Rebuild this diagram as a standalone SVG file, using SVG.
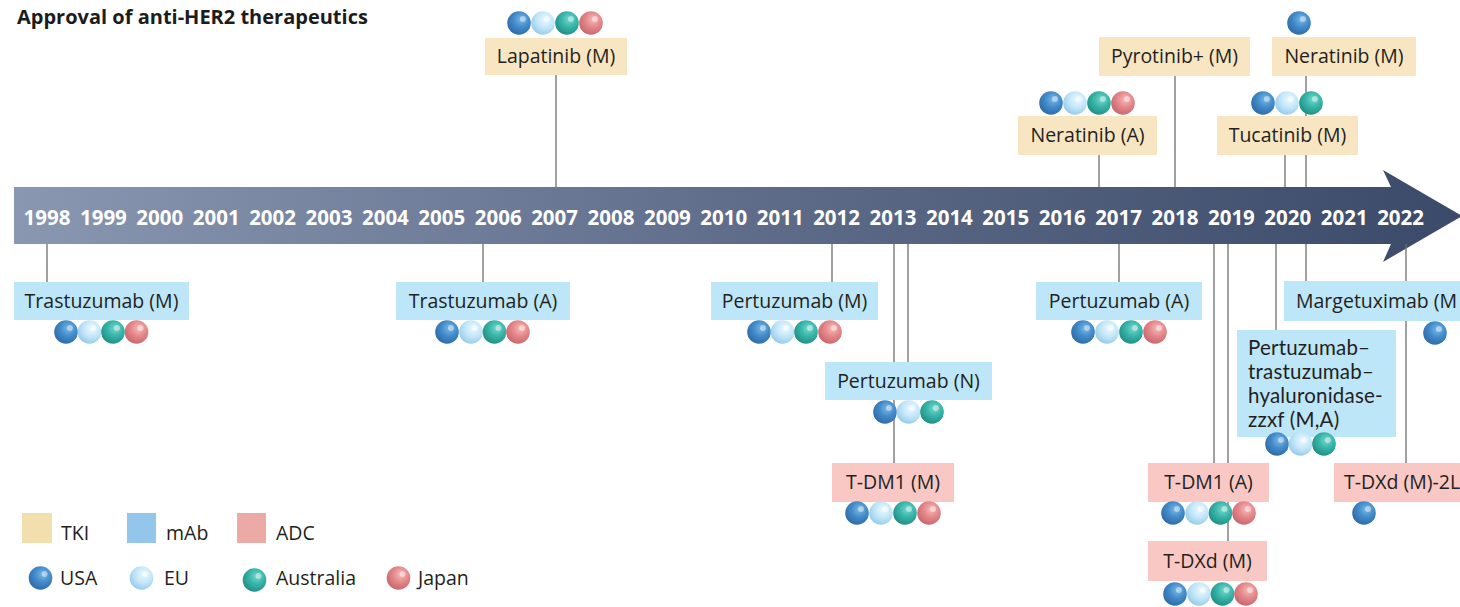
<svg xmlns="http://www.w3.org/2000/svg" xmlns:xlink="http://www.w3.org/1999/xlink" width="1460" height="607" viewBox="0 0 1460 607">
<style>
text{font-family:"Open Sans","Noto Sans","Liberation Sans",sans-serif;}
.title{font-size:20px;font-weight:700;fill:#1c1c1c;}
.yr{font-size:20.5px;font-weight:700;fill:#ffffff;text-anchor:middle;}
.lbl{font-size:19.5px;fill:#231f20;text-anchor:middle;}
.lbll{font-size:19.5px;fill:#231f20;}
.multi{font-family:Lato,"Open Sans",sans-serif;font-size:20.5px;fill:#231f20;letter-spacing:0.2px;}
.leg{font-size:19.5px;fill:#231f20;}
.tki{fill:#f8e6c3;}
.mab{fill:#bee6f9;}
.adc{fill:#f9c8c5;}
.conn line{stroke:#6e6e6e;stroke-width:1.3;}
</style>
<defs>
<linearGradient id="arrowG" x1="0" y1="0" x2="1" y2="0">
<stop offset="0" stop-color="#8a97b1"/>
<stop offset="0.5" stop-color="#5f6d8b"/>
<stop offset="1" stop-color="#3b4a68"/>
</linearGradient>
<radialGradient id="gU" cx="0.6" cy="0.35" r="0.75">
<stop offset="0" stop-color="#7ab8e4"/>
<stop offset="0.45" stop-color="#428bca"/>
<stop offset="1" stop-color="#2a639e"/>
</radialGradient>
<radialGradient id="gE" cx="0.6" cy="0.35" r="0.75">
<stop offset="0" stop-color="#eef9ff"/>
<stop offset="0.5" stop-color="#c0e5f8"/>
<stop offset="1" stop-color="#8cc4e4"/>
</radialGradient>
<radialGradient id="gA" cx="0.6" cy="0.35" r="0.75">
<stop offset="0" stop-color="#78d6cc"/>
<stop offset="0.45" stop-color="#36b4a8"/>
<stop offset="1" stop-color="#1d857c"/>
</radialGradient>
<radialGradient id="gJ" cx="0.6" cy="0.35" r="0.75">
<stop offset="0" stop-color="#f6baba"/>
<stop offset="0.45" stop-color="#e4878a"/>
<stop offset="1" stop-color="#c25f64"/>
</radialGradient>
<g id="usa"><circle r="11.8" fill="url(#gU)"/><circle cx="4" cy="-4" r="3" fill="#ffffff" opacity="0.45"/></g>
<g id="eu"><circle r="11.8" fill="url(#gE)"/><circle cx="4" cy="-4" r="3" fill="#ffffff" opacity="0.5"/></g>
<g id="aus"><circle r="11.8" fill="url(#gA)"/><circle cx="4" cy="-4" r="3" fill="#ffffff" opacity="0.45"/></g>
<g id="jpn"><circle r="11.8" fill="url(#gJ)"/><circle cx="4" cy="-4" r="3" fill="#ffffff" opacity="0.45"/></g>
</defs>
<rect width="1460" height="607" fill="#ffffff"/>
<text class="title" x="17" y="24">Approval of anti-HER2 therapeutics</text>

<g id="timeline">
<path d="M14,187 H1391 L1383,170 L1462,216 L1383,262 L1391,244 H14 Z" fill="url(#arrowG)"/>
<text class="yr" x="47" y="225">1998</text>
<text class="yr" x="103.4" y="225">1999</text>
<text class="yr" x="159.8" y="225">2000</text>
<text class="yr" x="216.2" y="225">2001</text>
<text class="yr" x="272.6" y="225">2002</text>
<text class="yr" x="329" y="225">2003</text>
<text class="yr" x="385.4" y="225">2004</text>
<text class="yr" x="441.8" y="225">2005</text>
<text class="yr" x="498.2" y="225">2006</text>
<text class="yr" x="554.6" y="225">2007</text>
<text class="yr" x="611" y="225">2008</text>
<text class="yr" x="667.4" y="225">2009</text>
<text class="yr" x="723.8" y="225">2010</text>
<text class="yr" x="780.2" y="225">2011</text>
<text class="yr" x="836.6" y="225">2012</text>
<text class="yr" x="893" y="225">2013</text>
<text class="yr" x="949.4" y="225">2014</text>
<text class="yr" x="1005.8" y="225">2015</text>
<text class="yr" x="1062.2" y="225">2016</text>
<text class="yr" x="1118.6" y="225">2017</text>
<text class="yr" x="1175" y="225">2018</text>
<text class="yr" x="1231.4" y="225">2019</text>
<text class="yr" x="1287.8" y="225">2020</text>
<text class="yr" x="1344.2" y="225">2021</text>
<text class="yr" x="1400.6" y="225">2022</text>
</g>

<g id="connectors" class="conn">
<line x1="556" y1="75" x2="556" y2="187"/>
<line x1="1175" y1="76" x2="1175" y2="187"/>
<line x1="1306" y1="76" x2="1306" y2="187"/>
<line x1="1099" y1="155" x2="1099" y2="187"/>
<line x1="1285" y1="155" x2="1285" y2="187"/>
<line x1="47" y1="244" x2="47" y2="282"/>
<line x1="483" y1="244" x2="483" y2="282"/>
<line x1="832" y1="244" x2="832" y2="282"/>
<line x1="894" y1="244" x2="894" y2="463"/>
<line x1="908" y1="244" x2="908" y2="362"/>
<line x1="1119" y1="244" x2="1119" y2="282"/>
<line x1="1306" y1="244" x2="1306" y2="281"/>
<line x1="1276" y1="244" x2="1276" y2="330"/>
<line x1="1214" y1="244" x2="1214" y2="463"/>
<line x1="1228" y1="244" x2="1228" y2="541"/>
<line x1="1406" y1="244" x2="1406" y2="463"/>
</g>

<g id="lapatinib-m">
<rect class="tki" x="485" y="38" width="142" height="37"/>
<text class="lbl" x="556" y="63">Lapatinib (M)</text>
<use href="#usa" x="519" y="23"/><use href="#eu" x="543" y="23"/><use href="#aus" x="567" y="23"/><use href="#jpn" x="591" y="23"/>
</g>

<g id="pyrotinib-m">
<rect class="tki" x="1099" y="37" width="151" height="39"/>
<text class="lbl" x="1174.5" y="63">Pyrotinib+ (M)</text>
</g>

<g id="neratinib-m">
<rect class="tki" x="1272" y="37" width="144" height="39"/>
<text class="lbl" x="1344" y="63">Neratinib (M)</text>
<use href="#usa" x="1299" y="23"/>
</g>

<g id="neratinib-a">
<rect class="tki" x="1018" y="116" width="139" height="39"/>
<text class="lbl" x="1087.5" y="142">Neratinib (A)</text>
<use href="#usa" x="1051" y="103"/><use href="#eu" x="1075" y="103"/><use href="#aus" x="1099" y="103"/><use href="#jpn" x="1123" y="103"/>
</g>

<g id="tucatinib-m">
<rect class="tki" x="1217" y="116" width="141" height="39"/>
<text class="lbl" x="1287.5" y="142">Tucatinib (M)</text>
<use href="#usa" x="1263" y="103"/><use href="#eu" x="1287" y="103"/><use href="#aus" x="1311" y="103"/>
</g>

<g id="trastuzumab-m">
<rect class="mab" x="14" y="282" width="175" height="38"/>
<text class="lbl" x="101.5" y="308">Trastuzumab (M)</text>
<use href="#usa" x="66" y="332"/><use href="#eu" x="89.5" y="332"/><use href="#aus" x="113" y="332"/><use href="#jpn" x="136.5" y="332"/>
</g>

<g id="trastuzumab-a">
<rect class="mab" x="396" y="282" width="174" height="38"/>
<text class="lbl" x="483" y="308">Trastuzumab (A)</text>
<use href="#usa" x="447" y="332"/><use href="#eu" x="471" y="332"/><use href="#aus" x="494.5" y="332"/><use href="#jpn" x="518" y="332"/>
</g>

<g id="pertuzumab-m">
<rect class="mab" x="711" y="282" width="167" height="38"/>
<text class="lbl" x="794.5" y="308">Pertuzumab (M)</text>
<use href="#usa" x="759" y="332"/><use href="#eu" x="782.5" y="332"/><use href="#aus" x="806" y="332"/><use href="#jpn" x="830" y="332"/>
</g>

<g id="pertuzumab-n">
<rect class="mab" x="825" y="362" width="167" height="38"/>
<text class="lbl" x="908.5" y="388">Pertuzumab (N)</text>
<use href="#usa" x="885" y="412"/><use href="#eu" x="908.5" y="412"/><use href="#aus" x="932" y="412"/>
</g>

<g id="tdm1-m">
<rect class="adc" x="832" y="463" width="122" height="39"/>
<text class="lbl" x="893" y="489">T-DM1 (M)</text>
<use href="#usa" x="857" y="513"/><use href="#eu" x="881" y="513"/><use href="#aus" x="905" y="513"/><use href="#jpn" x="929" y="513"/>
</g>

<g id="pertuzumab-a">
<rect class="mab" x="1036" y="282" width="166" height="38"/>
<text class="lbl" x="1119" y="308">Pertuzumab (A)</text>
<use href="#usa" x="1083" y="332"/><use href="#eu" x="1107" y="332"/><use href="#aus" x="1131" y="332"/><use href="#jpn" x="1155" y="332"/>
</g>

<g id="margetuximab-m">
<rect class="mab" x="1284" y="281" width="176" height="40"/>
<text class="lbll" x="1296" y="308">Margetuximab (M</text>
<use href="#usa" x="1435" y="333"/>
</g>

<g id="phesgo-ma">
<rect class="mab" x="1237" y="330" width="159" height="107"/>
<text class="multi" x="1248" y="355">Pertuzumab–</text>
<text class="multi" x="1248" y="379">trastuzumab–</text>
<text class="multi" x="1248" y="403">hyaluronidase-</text>
<text class="multi" x="1248" y="427">zzxf (M,A)</text>
<use href="#usa" x="1277" y="444"/><use href="#eu" x="1300.5" y="444"/><use href="#aus" x="1324" y="444"/>
</g>

<g id="tdm1-a">
<rect class="adc" x="1148" y="463" width="121" height="39"/>
<text class="lbl" x="1208.5" y="489">T-DM1 (A)</text>
<use href="#usa" x="1173" y="513"/><use href="#eu" x="1197" y="513"/><use href="#aus" x="1220.5" y="513"/><use href="#jpn" x="1244" y="513"/>
</g>

<g id="tdxd-m">
<rect class="adc" x="1148" y="541" width="119" height="40"/>
<text class="lbl" x="1207.5" y="568">T-DXd (M)</text>
<use href="#usa" x="1175" y="594"/><use href="#eu" x="1199" y="594"/><use href="#aus" x="1222.5" y="594"/><use href="#jpn" x="1246" y="594"/>
</g>

<g id="tdxd-m-2l">
<rect class="adc" x="1334" y="463" width="126" height="39"/>
<text class="lbll" x="1344" y="489">T-DXd (M)-2L</text>
<use href="#usa" x="1364" y="513"/>
</g>

<g id="legend">
<rect x="22" y="513" width="30" height="30" fill="#f3dfae"/>
<text class="leg" x="61" y="540">TKI</text>
<rect x="127" y="513" width="29" height="30" fill="#93c6ea"/>
<text class="leg" x="166" y="540">mAb</text>
<rect x="237" y="513" width="29" height="30" fill="#ebaaa5"/>
<text class="leg" x="276" y="540">ADC</text>
<use href="#usa" x="40.5" y="578"/>
<text class="leg" x="60" y="585">USA</text>
<use href="#eu" x="141.5" y="578"/>
<text class="leg" x="164" y="585">EU</text>
<use href="#aus" x="254.5" y="580"/>
<text class="leg" x="276" y="585">Australia</text>
<use href="#jpn" x="398.5" y="578"/>
<text class="leg" x="418" y="585">Japan</text>
</g>
</svg>
